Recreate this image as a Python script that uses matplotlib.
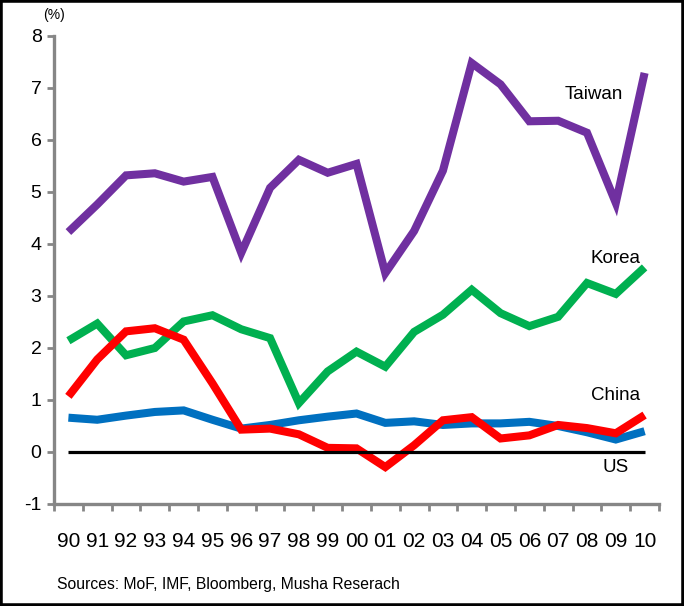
import matplotlib
matplotlib.use("Agg")
import matplotlib.pyplot as plt
from matplotlib.patches import Rectangle

years = ["90", "91", "92", "93", "94", "95", "96", "97", "98", "99", "00",
         "01", "02", "03", "04", "05", "06", "07", "08", "09", "10"]

taiwan = [4.23, 4.76, 5.32, 5.36, 5.20, 5.29, 3.83, 5.08, 5.62, 5.37, 5.54,
          3.44, 4.25, 5.41, 7.48, 7.07, 6.36, 6.37, 6.14, 4.79, 7.29]
korea = [2.14, 2.47, 1.86, 2.00, 2.51, 2.63, 2.36, 2.19, 0.94, 1.55, 1.93,
         1.64, 2.31, 2.64, 3.12, 2.67, 2.42, 2.60, 3.25, 3.04, 3.55]
red_series = [1.07, 1.78, 2.32, 2.38, 2.16, 1.32, 0.43, 0.45, 0.34, 0.08, 0.07,
              -0.29, 0.13, 0.61, 0.67, 0.26, 0.32, 0.52, 0.46, 0.36, 0.71]
blue_series = [0.66, 0.62, 0.70, 0.77, 0.80, 0.62, 0.45, 0.52, 0.61, 0.68, 0.74,
               0.56, 0.59, 0.52, 0.55, 0.55, 0.58, 0.50, 0.38, 0.24, 0.40]
zero_line = [0.0] * len(years)

y_ticks = [-1, 0, 1, 2, 3, 4, 5, 6, 7, 8]

W, H = 684, 606
fig = plt.figure(figsize=(W / 100, H / 100), dpi=100)
ax = fig.add_axes([54 / W, 1 - 504 / H, (659 - 54) / W, (504 - 36) / H])

x = list(range(len(years)))
lw = 5.8
style = dict(lw=lw, solid_joinstyle="miter", solid_capstyle="butt")
ax.plot(x, taiwan, color="#7030A0", **style)
ax.plot(x, korea, color="#00B050", **style)
ax.plot(x, blue_series, color="#0070C0", **style)
ax.plot(x, red_series, color="#FF0000", **style)
ax.plot(x, zero_line, color="black", lw=2.3, solid_capstyle="butt")

ax.set_xlim(-0.5, len(years) - 0.5)
ax.set_ylim(-1, 8)

gray = "#868686"
for side in ("top", "right"):
    ax.spines[side].set_visible(False)
for side in ("left", "bottom"):
    ax.spines[side].set_color(gray)
    ax.spines[side].set_linewidth(2.4)

ax.set_yticks(y_ticks)
ax.set_yticklabels([str(v) for v in y_ticks], fontsize=14, family="Liberation Sans")
ax.tick_params(axis="y", direction="out", length=5, width=2, color=gray, pad=4)

# category boundaries carry the tick marks, labels sit at the centres
ax.set_xticks([i - 0.5 for i in range(len(years) + 1)])
ax.set_xticklabels([])
ax.tick_params(axis="x", direction="out", length=5, width=2, color=gray)
for i, lab in enumerate(years):
    ax.text(i, -1.72, lab, ha="center", va="center", fontsize=15,
            family="Liberation Sans")

lab_kw = dict(ha="center", va="center", fontsize=13.5, family="Liberation Sans")
ax.text(18.25, 6.87, "Taiwan", **lab_kw)
ax.text(19.0, 3.73, "Korea", **lab_kw)
ax.text(19.0, 1.08, "China", **lab_kw)
ax.text(19.0, -0.29, "US", **lab_kw)

fig.text(54 / W, 1 - 15 / H, "(%)", ha="center", va="center", fontsize=10,
         family="Liberation Sans")
fig.text(57 / W, 1 - 585 / H, "Sources: MoF, IMF, Bloomberg, Musha Reserach",
         ha="left", va="center", fontsize=11.3, family="Liberation Sans")

fig.patches.append(Rectangle((0, 0), 1, 1, transform=fig.transFigure,
                             fill=False, edgecolor="black", linewidth=4))

fig.savefig("out.png", dpi=100)
